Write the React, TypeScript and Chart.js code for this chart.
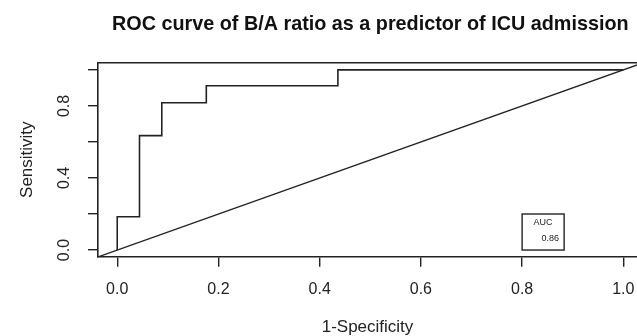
import React, { useEffect, useRef } from 'react';
import { Chart, registerables } from 'chart.js';

Chart.register(...registerables);

// ROC curve vertices (1-Specificity, Sensitivity)
const fpr = [0, 0, 0.044, 0.044, 0.088, 0.088, 0.176, 0.176, 0.436, 0.436, 1];
const tpr = [0, 0.185, 0.185, 0.635, 0.635, 0.818, 0.818, 0.912, 0.912, 1, 1];
// reference diagonal (abline 0,1)
const refX = [-0.04, 1.04];
const refY = [-0.04, 1.04];
// labelled ticks on the y axis (R drops the overlapping ones)
const yLabelTicks = [0, 0.4, 0.8];
const aucTitle = 'AUC';
const aucValue = '0.86';
const chartTitle = 'ROC curve of B/A ratio as a predictor of ICU admission';
const xTitle = '1-Specificity';
const yTitle = 'Sensitivity';

const INK = '#222222';
const FAMILY = '"Liberation Sans", Arial, Helvetica, sans-serif';

const decorPlugin = {
  id: 'rocDecor',
  afterDraw(chart: any) {
    const { ctx, chartArea, scales } = chart;
    const x = scales.x;
    const y = scales.y;
    ctx.save();
    // top edge of the box
    ctx.strokeStyle = INK;
    ctx.lineWidth = 1.6;
    ctx.beginPath();
    ctx.moveTo(chartArea.left, chartArea.top);
    ctx.lineTo(chartArea.right + 2, chartArea.top);
    ctx.stroke();

    // main title centred on the plot region
    ctx.fillStyle = '#111';
    ctx.font = `bold 19.8px ${FAMILY}`;
    ctx.textAlign = 'center';
    ctx.textBaseline = 'alphabetic';
    ctx.fillText(chartTitle, x.getPixelForValue(0.5), 30);

    // rotated y tick labels
    ctx.fillStyle = INK;
    ctx.font = `16px ${FAMILY}`;
    for (const v of yLabelTicks) {
      ctx.save();
      ctx.translate(chartArea.left - 33, y.getPixelForValue(v));
      ctx.rotate(-Math.PI / 2);
      ctx.textAlign = 'center';
      ctx.textBaseline = 'middle';
      ctx.fillText(v.toFixed(1), 0, 0);
      ctx.restore();
    }

    // AUC legend box
    const l = x.getPixelForValue(0.8);
    const r = x.getPixelForValue(0.883);
    const t = y.getPixelForValue(0.2);
    const b = y.getPixelForValue(0);
    ctx.lineWidth = 1.4;
    ctx.strokeStyle = INK;
    ctx.strokeRect(l, t, r - l, b - t);
    ctx.font = `9px ${FAMILY}`;
    ctx.textBaseline = 'middle';
    ctx.textAlign = 'center';
    ctx.fillText(aucTitle, (l + r) / 2, t + 9);
    ctx.textAlign = 'right';
    ctx.fillText(aucValue, r - 5, t + 25);
    ctx.restore();
  },
};

export default function App() {
  const ref = useRef<HTMLCanvasElement | null>(null);
  useEffect(() => {
    if (!ref.current) return;
    const chart = new Chart(ref.current, {
      type: 'scatter',
      data: {
        datasets: [
          {
            data: fpr.map((v, i) => ({ x: v, y: tpr[i] })),
            showLine: true,
            borderColor: INK,
            borderWidth: 1.6,
            pointRadius: 0,
            fill: false,
            tension: 0,
          },
          {
            data: refX.map((v, i) => ({ x: v, y: refY[i] })),
            showLine: true,
            borderColor: INK,
            borderWidth: 1.4,
            pointRadius: 0,
            fill: false,
            tension: 0,
            clip: 0,
          },
        ],
      } as any,
      options: {
        responsive: false,
        animation: false,
        devicePixelRatio: 1,
        layout: { padding: { top: 62.7, left: 0, right: 0, bottom: 0 } },
        plugins: {
          legend: { display: false },
          tooltip: { enabled: false },
          title: { display: false },
        },
        scales: {
          x: {
            type: 'linear',
            min: -0.038,
            max: 1.027,
            afterFit: (s: any) => {
              s.height = 79.3;
              s.paddingLeft = 0;
              s.paddingRight = 0;
            },
            ticks: {
              stepSize: 0.2,
              includeBounds: false,
              autoSkip: false,
              maxRotation: 0,
              callback: (v: any) => Number(v).toFixed(1),
              font: { family: FAMILY, size: 16 },
              color: INK,
              padding: 13,
            },
            grid: {
              drawOnChartArea: false,
              drawTicks: true,
              tickLength: 10,
              color: INK,
              lineWidth: 1.4,
            },
            border: { display: true, color: INK, width: 1.6 },
            title: {
              display: true,
              text: xTitle,
              font: { family: FAMILY, size: 17, lineHeight: 1 },
              color: INK,
              padding: { top: 0, bottom: 0 },
            },
          },
          y: {
            type: 'linear',
            min: -0.037,
            max: 1.04,
            afterFit: (s: any) => {
              s.width = 98;
              s.paddingTop = 0;
              s.paddingBottom = 0;
            },
            ticks: {
              stepSize: 0.2,
              includeBounds: false,
              display: false,
            },
            grid: {
              drawOnChartArea: false,
              drawTicks: true,
              tickLength: 10,
              color: INK,
              lineWidth: 1.4,
            },
            border: { display: true, color: INK, width: 1.6 },
            title: {
              display: true,
              text: yTitle,
              font: { family: FAMILY, size: 17, lineHeight: 1.2 },
              color: INK,
              padding: { top: 17, bottom: 0 },
            },
          },
        },
      } as any,
      plugins: [decorPlugin],
    });
    return () => chart.destroy();
  }, []);

  return (
    <div
      style={{
        position: 'absolute',
        left: 0,
        top: 0,
        width: 637,
        height: 336,
        overflow: 'hidden',
        background: '#fff',
      }}
    >
      <canvas ref={ref} width={637} height={336} style={{ display: 'block', width: 637, height: 336 }} />
    </div>
  );
}
